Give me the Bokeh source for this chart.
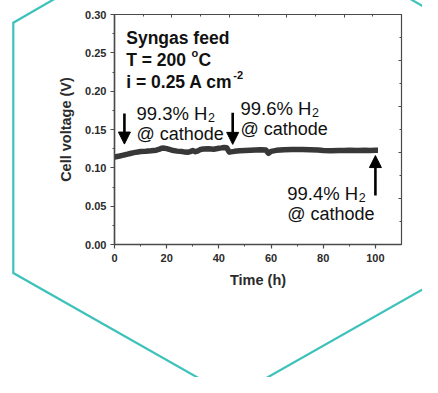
from bokeh.plotting import figure
from bokeh.models import (LinearAxis, FixedTicker, NumeralTickFormatter, Range1d,
                          Arrow, NormalHead)
from bokeh.core.properties import value
from bokeh.embed import file_html
from bokeh.resources import INLINE

# ---- data ----
time_h = [0, 1, 2, 3, 4, 5, 6, 7, 8, 9, 10, 12, 14, 16, 17, 18, 19, 20, 21, 22, 24, 26, 27, 28, 29,
          30, 31, 32, 33, 34, 36, 38, 40, 41, 42, 43, 44, 46, 48, 50, 52, 54, 56, 58, 59, 60,
          62, 65, 68, 70, 72, 75, 78, 80, 83, 86, 88, 90, 93, 96, 98, 100, 101]
voltage_v = [0.1140, 0.1148, 0.1155, 0.1163, 0.1170, 0.1178, 0.1187, 0.1195, 0.1202, 0.1207, 0.1212,
             0.1216, 0.1222, 0.1230, 0.1240, 0.1255, 0.1258, 0.1250, 0.1240, 0.1230, 0.1218, 0.1212,
             0.1205, 0.1203, 0.1212, 0.1225, 0.1210, 0.1222, 0.1240, 0.1245, 0.1248, 0.1243,
             0.1255, 0.1260, 0.1266, 0.1262, 0.1205, 0.1215, 0.1222, 0.1226, 0.1230, 0.1234,
             0.1236, 0.1232, 0.1190, 0.1215, 0.1228, 0.1236, 0.1238, 0.1240, 0.1238, 0.1237,
             0.1232, 0.1225, 0.1224, 0.1226, 0.1225, 0.1228, 0.1227, 0.1228, 0.1226, 0.1228, 0.1228]

x_major_ticks = [0, 20, 40, 60, 80, 100]
x_minor_ticks = [10, 30, 50, 70, 90]
y_major_ticks = [0.00, 0.05, 0.10, 0.15, 0.20, 0.25, 0.30]
y_minor_ticks = [0.025, 0.075, 0.125, 0.175, 0.225, 0.275]
top_major_ticks = [0, 22, 44, 66, 88, 110]
top_minor_ticks = [11, 33, 55, 77, 99]
right_major_ticks = [0.0, 0.06, 0.12, 0.18, 0.24, 0.30]
right_minor_ticks = [0.03, 0.09, 0.15, 0.21, 0.27]

x_label = "Time (h)"
y_label = "Cell voltage (V)"
cond_lines = ["Syngas feed", "T = 200 ", "i = 0.25 A cm"]
cond_sup = ["", "o", "-2"]
cond_after = ["", "C", ""]
purity_labels = ["99.3% H", "99.6% H", "99.4% H"]
purity_x = [8.4, 48.3, 66.2]
purity_y = [0.1706, 0.177, 0.0664]
arrow_x = [3.8, 45.3, 100.0]
arrow_start = [0.171, 0.172, 0.064]
arrow_end = [0.131, 0.1306, 0.116]

# hexagon decoration (canvas pixels)
hex_pts = [(13.3, 22.7), (13.3, 273.0), (232.4, 397.3), (451.4, 273.0), (451.4, 22.7), (232.4, -103.7)]

FONT = "Liberation Sans"
DARK = "#2b2b2b"
AXC = "#4a4a4a"

pts = " ".join(f"{x},{y}" for x, y in hex_pts)
svg = ("<svg xmlns='http://www.w3.org/2000/svg' width='438' height='393'>"
       f"<polygon points='{pts}' fill='none' stroke='%233cc2bb' stroke-width='2.2'/></svg>")

p = figure(frame_width=287, frame_height=230, output_backend="svg", toolbar_location=None,
           x_range=Range1d(0, 110), y_range=Range1d(0, 0.30),
           min_border_left=114, min_border_right=21, min_border_top=14, min_border_bottom=133,
           x_axis_label=x_label, y_axis_label=y_label)
p.grid.visible = False
p.background_fill_color = "white"
p.border_fill_color = None
p.styles = {"background-image": f'url("data:image/svg+xml;utf8,{svg}")',
            "background-repeat": "no-repeat"}
p.outline_line_color = AXC
p.outline_line_width = 1.2

for ax in (p.xaxis[0], p.yaxis[0]):
    ax.axis_line_color = AXC
    ax.axis_line_width = 1.5
    ax.major_tick_line_color = AXC
    ax.minor_tick_line_color = AXC
    ax.major_tick_line_width = 1.2
    ax.major_tick_out = 4
    ax.major_tick_in = 0
    ax.minor_tick_out = 2
    ax.minor_tick_in = 0
    ax.major_label_text_font = FONT
    ax.major_label_text_font_style = "bold"
    ax.major_label_text_font_size = "11px"
    ax.major_label_text_color = DARK
    ax.axis_label_text_font = FONT
    ax.axis_label_text_font_style = "bold"
    ax.axis_label_text_font_size = "14.5px"
    ax.axis_label_text_color = DARK

p.xaxis[0].ticker = FixedTicker(ticks=x_major_ticks, minor_ticks=x_minor_ticks)
p.yaxis[0].ticker = FixedTicker(ticks=y_major_ticks, minor_ticks=y_minor_ticks)
p.yaxis[0].formatter = NumeralTickFormatter(format="0.00")
p.xaxis[0].major_label_standoff = 5
p.yaxis[0].major_label_standoff = 4
p.xaxis[0].axis_label_standoff = 7
p.yaxis[0].axis_label_standoff = 8

top = LinearAxis(ticker=FixedTicker(ticks=top_major_ticks, minor_ticks=top_minor_ticks),
                 major_label_overrides={t: "" for t in top_major_ticks}, major_label_standoff=0,
                 major_label_text_font_size="1px",
                 major_tick_in=3, major_tick_out=0, minor_tick_in=2, minor_tick_out=0,
                 axis_line_color=AXC, major_tick_line_color=AXC, minor_tick_line_color=AXC)
right = LinearAxis(ticker=FixedTicker(ticks=right_major_ticks, minor_ticks=right_minor_ticks),
                   major_label_overrides={t: "" for t in right_major_ticks}, major_label_standoff=0,
                   major_label_text_font_size="1px",
                   major_tick_in=3, major_tick_out=0, minor_tick_in=2, minor_tick_out=0,
                   axis_line_color=AXC, major_tick_line_color=AXC, minor_tick_line_color=AXC)
p.add_layout(top, "above")
p.add_layout(right, "right")

# data line
p.line(time_h, voltage_v, line_color="#383838", line_width=5.5, line_join="round")

# condition text
cx, cy0, dy = 4.5, 0.269, 0.0282
for i, t in enumerate(cond_lines):
    y = cy0 - i * dy
    p.text(x=[cx], y=[y], text=[t], text_font=value(FONT), text_font_style="bold",
           text_font_size="17.5px", text_color="#111111", text_baseline="alphabetic")
widths = [0, 64.7, 106.5]
for i in range(1, 3):
    y = cy0 - i * dy
    p.text(x=[cx], y=[y], text=[cond_sup[i]], x_offset=widths[i] + 0.5, y_offset=-7,
           text_font=value(FONT), text_font_style="bold", text_font_size="11px",
           text_color="#111111", text_baseline="alphabetic")
    if cond_after[i]:
        p.text(x=[cx], y=[y], text=[cond_after[i]], x_offset=widths[i] + 7.5,
               text_font=value(FONT), text_font_style="bold", text_font_size="17.5px",
               text_color="#111111", text_baseline="alphabetic")

# purity labels
for t, x, y in zip(purity_labels, purity_x, purity_y):
    p.text(x=[x], y=[y], text=[t], text_font=value(FONT), text_font_size="18.5px",
           text_color="#111111", text_baseline="alphabetic")
    p.text(x=[x], y=[y], text=["2"], x_offset=71.5, y_offset=4, text_font=value(FONT),
           text_font_size="12.5px", text_color="#111111", text_baseline="alphabetic")
    p.text(x=[x], y=[y], text=["@ cathode"], y_offset=20, text_font=value(FONT),
           text_font_size="18px", text_color="#111111", text_baseline="alphabetic")

for x, y0, y1 in zip(arrow_x, arrow_start, arrow_end):
    p.add_layout(Arrow(x_start=x, y_start=y0, x_end=x, y_end=y1, line_width=2.6, line_color="black",
                       end=NormalHead(size=12, fill_color="black", line_color="black")))

open("out.html", "w").write(file_html(p, INLINE))
